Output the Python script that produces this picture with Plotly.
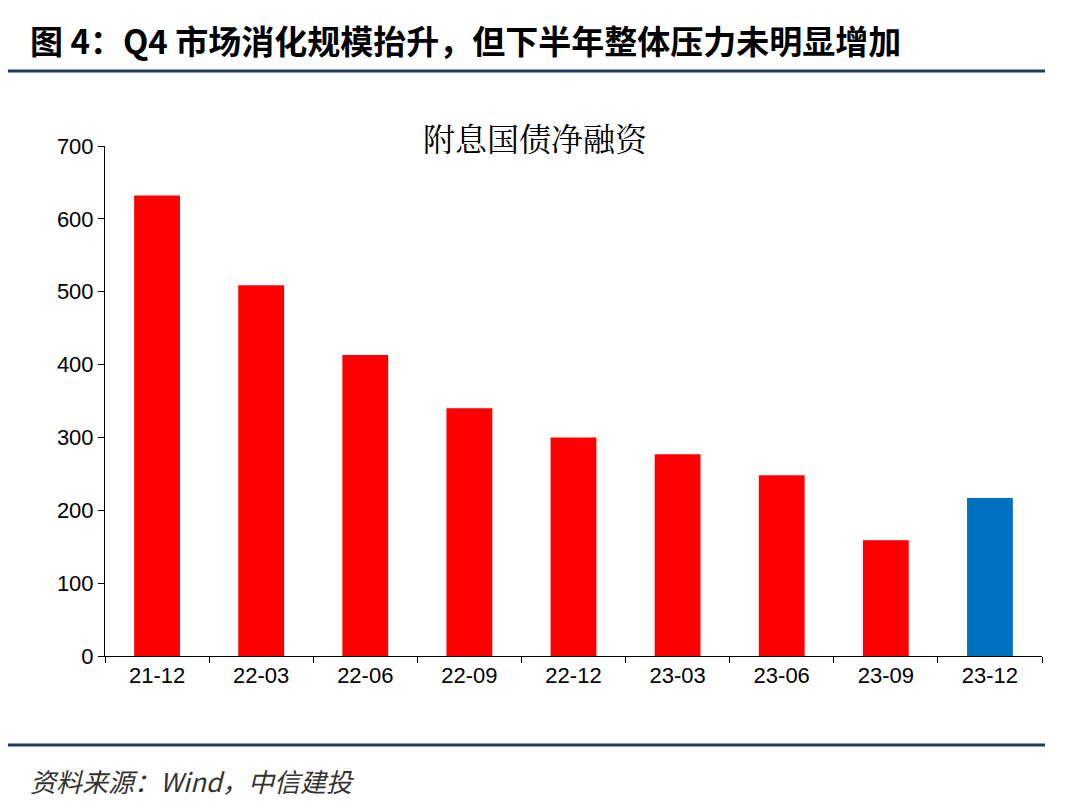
import plotly.graph_objects as go

categories = ["21-12", "22-03", "22-06", "22-09", "22-12", "23-03", "23-06", "23-09", "23-12"]
values = [632, 509, 413, 340, 300, 277, 248, 159, 217]
bar_colors = ["#FF0000"] * 8 + ["#0070C0"]

fig = go.Figure(go.Bar(x=categories, y=values, marker_color=bar_colors, marker_line_width=0))

# page renders with ~8px offset, so compensate
OFF = 8
W, H = 1080, 811
L, R, T, B = 105 - OFF, 38 + OFF, 146 - OFF, 155 + OFF
pw, ph = W - L - R, H - T - B


def px(x):
    return (x - OFF - L) / pw


def py(y):
    return (H - B - (y - OFF)) / ph


fig.update_layout(
    width=W, height=H,
    margin=dict(l=L, r=R, t=T, b=B),
    plot_bgcolor="white", paper_bgcolor="white",
    bargap=0.56, showlegend=False,
    font=dict(family="Liberation Sans, Arial", size=22, color="black"),
    xaxis=dict(type="category", showline=True, linecolor="black", linewidth=1,
               ticks="outside", tickson="boundaries", ticklen=6, tickcolor="black"),
    yaxis=dict(range=[0, 700], dtick=100, showline=True, linecolor="black",
               linewidth=1, ticks="outside", ticklen=6, tickcolor="black",
               showgrid=False, zeroline=False),
    shapes=[
        dict(type="line", xref="paper", yref="paper", x0=px(8), x1=px(1045),
             y0=py(71), y1=py(71), line=dict(color="#1F3864", width=3)),
        dict(type="line", xref="paper", yref="paper", x0=px(8), x1=px(1045),
             y0=py(745), y1=py(745), line=dict(color="#1F3864", width=3)),
    ],
    annotations=[
        dict(text="<b>图 4：Q4 市场消化规模抬升，但下半年整体压力未明显增加</b>",
             xref="paper", yref="paper", x=px(28), y=py(40), xanchor="left",
             yanchor="middle", showarrow=False,
             font=dict(family="Noto Sans CJK SC", size=33, color="black")),
        dict(text="附息国债净融资", xref="paper", yref="paper", x=px(535), y=py(137),
             xanchor="center", yanchor="middle", showarrow=False,
             font=dict(family="Noto Serif CJK SC, Noto Sans CJK SC", size=32, color="black")),
        dict(text="<i>资料来源：Wind，中信建投</i>", xref="paper", yref="paper",
             x=px(28), y=py(780), xanchor="left", yanchor="middle", showarrow=False,
             font=dict(family="Noto Sans CJK SC", size=26, color="#333333")),
    ],
)

fig.write_html("out.html")
